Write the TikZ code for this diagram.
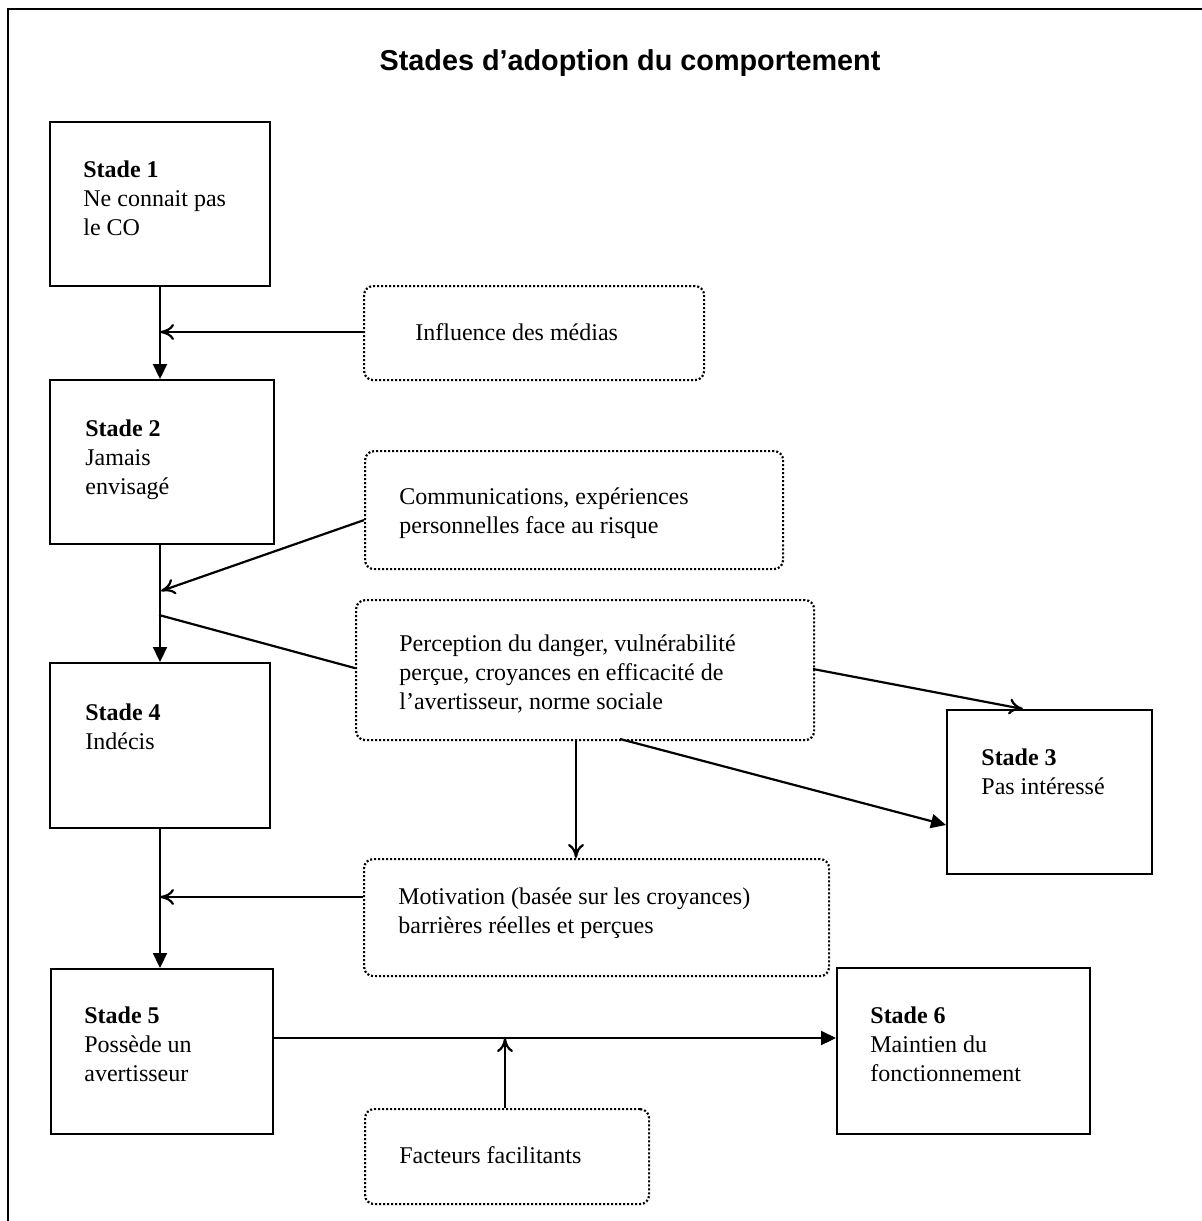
\documentclass[tikz,border=0pt]{standalone}
\usepackage{fontspec}
\setmainfont{Liberation Serif}
\newfontfamily\titlefont{Liberation Sans}
\usetikzlibrary{arrows.meta,calc}
\begin{document}
\begin{tikzpicture}[x=0.5pt,y=-0.5pt,
  stagebox/.style={draw, line width=1pt, anchor=north west, inner sep=0pt},
  factorbox/.style={draw, line width=1.1pt, dash pattern=on 1pt off 1pt, rounded corners=4.5pt, anchor=north west, inner sep=0pt},
  txt/.style={anchor=base west, inner sep=0pt, align=left, font=\fontsize{12}{14.3}\selectfont},
  conn/.style={line width=1.1pt},
  fillarrow/.style={conn, -{Triangle[length=7.5pt,width=7pt]}},
  openarrow/.style={conn, -{Computer Modern Rightarrow[length=7pt,width=8pt]}}
]
\useasboundingbox (0,0) rectangle (1202,1221);
\fill[white] (0,0) rectangle (1202,1221);
% outer frame
\draw[line width=0.75pt] (8,1221) -- (8,9) -- (1202,9);
% title
\node[anchor=base, inner sep=0pt, font=\titlefont\bfseries\fontsize{14.4}{17}\selectfont] (title) at (630,70) {Stades d’adoption du comportement};

% stage boxes
\node[stagebox, minimum width=110pt, minimum height=82pt] (s1) at (49,121) {};
\node[stagebox, minimum width=112pt, minimum height=82pt] (s2) at (49,379) {};
\node[stagebox, minimum width=110pt, minimum height=82.5pt] (s4) at (49,662) {};
\node[stagebox, minimum width=102.5pt, minimum height=82pt] (s3) at (946,709) {};
\node[stagebox, minimum width=111pt, minimum height=82.5pt] (s5) at (50,968) {};
\node[stagebox, minimum width=126.5pt, minimum height=83pt] (s6) at (836,967) {};

% stage texts (anchored at the baseline of the last line)
\node[txt] (t1) at (83,235) {\textbf{Stade 1}\\Ne connait pas\\le CO};
\node[txt] (t2) at (85,494) {\textbf{Stade 2}\\Jamais\\envisagé};
\node[txt] (t4) at (85,749) {\textbf{Stade 4}\\Indécis};
\node[txt] (t3) at (981,794) {\textbf{Stade 3}\\Pas intéressé};
\node[txt] (t5) at (84,1081) {\textbf{Stade 5}\\Possède un\\avertisseur};
\node[txt] (t6) at (870,1081) {\textbf{Stade 6}\\Maintien du\\fonctionnement};

% factor boxes
\node[factorbox, minimum width=170pt, minimum height=47pt] (inf) at (363,285) {};
\node[factorbox, minimum width=209pt, minimum height=59pt] (com) at (364,450) {};
\node[factorbox, minimum width=229pt, minimum height=70pt] (per) at (355,599) {};
\node[factorbox, minimum width=232.5pt, minimum height=58.5pt] (mot) at (363,858) {};
\node[factorbox, minimum width=142pt, minimum height=47.5pt] (fac) at (364,1108) {};

% factor texts (anchored at the baseline of the last line)
\node[txt] (tinf) at (415,340) {Influence des médias};
\node[txt] (tcom) at (399,533) {Communications, expériences\\personnelles face au risque};
\node[txt] (tper) at (399,709) {Perception du danger, vulnérabilité\\perçue, croyances en efficacité de\\l’avertisseur, norme sociale};
\node[txt] (tmot) at (398,933) {Motivation (basée sur les croyances)\\barrières réelles et perçues};
\node[txt] (tfac) at (399,1163) {Facteurs facilitants};

% junction coordinates
\coordinate (j1) at (160,332);
\coordinate (j2) at (161,591);
\coordinate (j3) at (159,615);
\coordinate (j4) at (160,897);
\coordinate (j5) at (505,1038);
\coordinate (p1) at (813,669);
\coordinate (p2) at (620,739);
\coordinate (p3) at (576,739);
\coordinate (e3a) at (1023,709);
\coordinate (e3b) at (946,825);

% main vertical flow
\draw[fillarrow] (s1.south) -- (s1.south |- s2.north);
\draw[fillarrow] (s4.north |- s2.south) -- (s4.north);
\draw[fillarrow] (s4.south) -- (s4.south |- s5.north);
\draw[fillarrow] (s5.east |- j5) -- (s6.west |- j5);

% influences
\draw[openarrow] (inf.west |- j1) -- (j1);
\draw[openarrow] ([yshift=-5pt]com.west) -- (j2);
\draw[conn] (j3) -- ([yshift=1pt]per.west);
\draw[openarrow] (p1) -- (e3a);
\draw[fillarrow] (p2) -- (e3b);
\draw[openarrow] (p3) -- (p3 |- mot.north);
\draw[openarrow] (mot.west |- j4) -- (j4);
\draw[openarrow] (fac.north -| j5) -- (j5);
\end{tikzpicture}
\end{document}
